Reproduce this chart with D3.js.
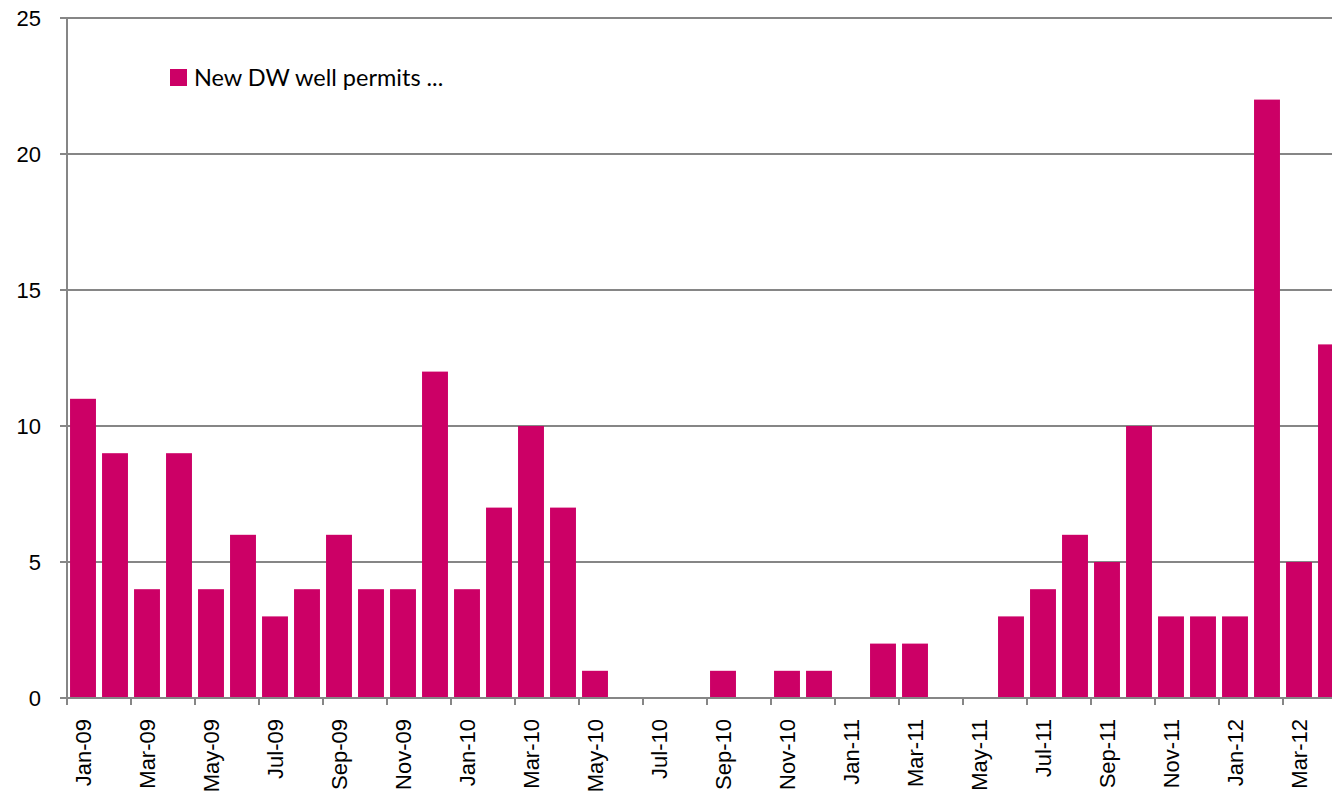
<!DOCTYPE html>
<html>
<head>
<meta charset="utf-8">
<script src="https://cdn.jsdelivr.net/npm/d3@7"></script>
<style>
  body { margin: 0; background: #fff; overflow: hidden; }
  svg { display: block; }
</style>
</head>
<body>
<div id="chart"></div>
<script>
// monthly permits, Jan-09 .. Apr-12
var months = ["Jan-09","Feb-09","Mar-09","Apr-09","May-09","Jun-09","Jul-09","Aug-09","Sep-09","Oct-09","Nov-09","Dec-09",
              "Jan-10","Feb-10","Mar-10","Apr-10","May-10","Jun-10","Jul-10","Aug-10","Sep-10","Oct-10","Nov-10","Dec-10",
              "Jan-11","Feb-11","Mar-11","Apr-11","May-11","Jun-11","Jul-11","Aug-11","Sep-11","Oct-11","Nov-11","Dec-11",
              "Jan-12","Feb-12","Mar-12","Apr-12"];
var permits = [11, 9, 4, 9, 4, 6, 3, 4, 6, 4, 4, 12,
               4, 7, 10, 7, 1, 0, 0, 0, 1, 0, 1, 1,
               0, 2, 2, 0, 0, 3, 4, 6, 5, 10, 3, 3,
               3, 22, 5, 13];
var yTicks = [0, 5, 10, 15, 20, 25];
var seriesName = "New DW well permits ...";

var width = 1332, height = 797;
var margin = { left: 67, top: 18, bottom: 99 };
var step = 32;

var svg = d3.select("#chart").append("svg")
    .attr("width", width)
    .attr("height", height);

var x = d3.scaleBand()
    .domain(months)
    .range([margin.left, margin.left + months.length * step])
    .paddingInner(0.19)
    .paddingOuter(0.095);

var y = d3.scaleLinear()
    .domain([0, 25])
    .range([height - margin.bottom, margin.top]);

// gridlines
svg.append("g")
    .selectAll("line")
    .data(yTicks)
    .join("line")
    .attr("x1", margin.left - 7)
    .attr("x2", width)
    .attr("y1", d => y(d))
    .attr("y2", d => y(d))
    .attr("stroke", "#868686")
    .attr("stroke-width", 2);

// y labels
svg.append("g")
    .selectAll("text")
    .data(yTicks)
    .join("text")
    .attr("x", 41)
    .attr("y", d => y(d))
    .attr("dy", "0.36em")
    .attr("text-anchor", "end")
    .attr("font-family", "Liberation Sans, Arial, sans-serif")
    .attr("font-size", 22)
    .attr("fill", "#000")
    .text(d => d);

// bars
svg.append("g")
    .selectAll("rect")
    .data(months)
    .join("rect")
    .attr("x", d => x(d))
    .attr("width", x.bandwidth())
    .attr("y", (d, i) => y(permits[i]))
    .attr("height", (d, i) => y(0) - y(permits[i]))
    .attr("fill", "#cc0066");

// axes lines
svg.append("line")
    .attr("x1", margin.left).attr("x2", margin.left)
    .attr("y1", y(25) - 1).attr("y2", y(0))
    .attr("stroke", "#868686").attr("stroke-width", 2);

var xAxis = svg.append("g");
xAxis.append("line")
    .attr("x1", margin.left).attr("x2", width)
    .attr("y1", y(0)).attr("y2", y(0))
    .attr("stroke", "#868686").attr("stroke-width", 2);

var labelled = months.filter((d, i) => i % 2 === 0);

xAxis.selectAll("line.tick")
    .data(labelled)
    .join("line")
    .attr("class", "tick")
    .attr("x1", d => x(d) - x.step() * x.paddingOuter())
    .attr("x2", d => x(d) - x.step() * x.paddingOuter())
    .attr("y1", y(0))
    .attr("y2", y(0) + 7)
    .attr("stroke", "#868686")
    .attr("stroke-width", 2);

xAxis.selectAll("text")
    .data(labelled)
    .join("text")
    .attr("transform", d => "translate(" + (x(d) + x.bandwidth() / 2) + "," + (y(0) + 21) + ") rotate(-90)")
    .attr("text-anchor", "end")
    .attr("dy", "0.36em")
    .attr("font-family", "Liberation Sans, Arial, sans-serif")
    .attr("font-size", 22)
    .attr("fill", "#000")
    .text(d => d);

// legend
var legend = svg.append("g").attr("transform", "translate(170,69)");
legend.append("rect")
    .attr("width", 17).attr("height", 17)
    .attr("fill", "#cc0066");
legend.append("text")
    .attr("x", 24).attr("y", 17)
    .attr("font-family", "Lato, Carlito, Calibri, sans-serif")
    .attr("font-size", 23.5)
    .attr("fill", "#000")
    .text(seriesName);
</script>
</body>
</html>
